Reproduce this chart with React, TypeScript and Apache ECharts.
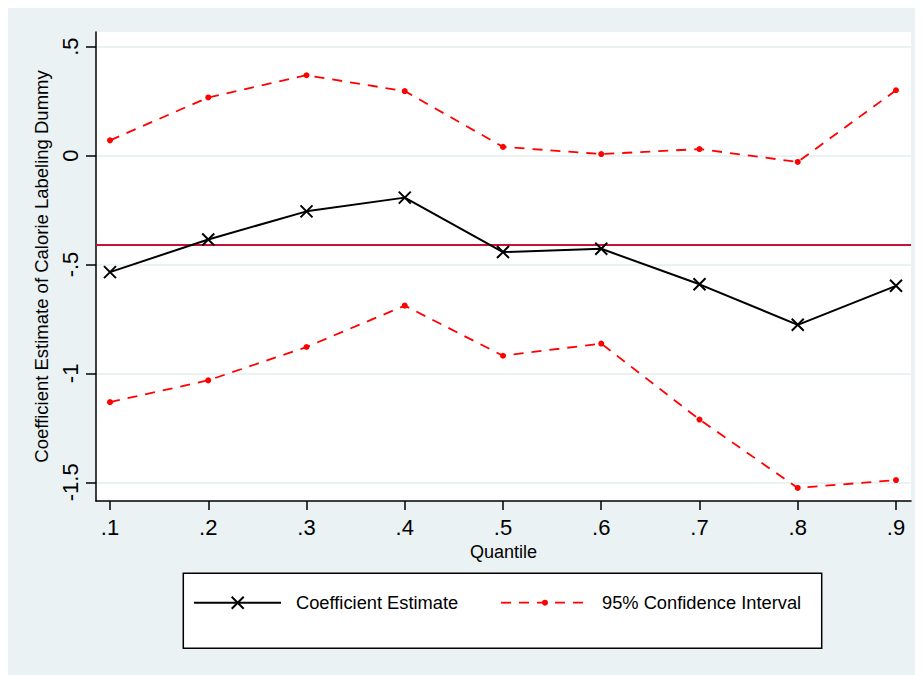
import React, { useEffect, useRef } from "react";
import * as echarts from "echarts";

// Quantile regression results for the calorie labeling dummy
const quantiles = [0.1, 0.2, 0.3, 0.4, 0.5, 0.6, 0.7, 0.8, 0.9];
const coefEstimate = [-0.535, -0.385, -0.256, -0.193, -0.443, -0.428, -0.591, -0.777, -0.598];
const upperCI = [0.07, 0.267, 0.369, 0.296, 0.04, 0.007, 0.03, -0.029, 0.3];
const lowerCI = [-1.132, -1.032, -0.879, -0.689, -0.919, -0.863, -1.212, -1.526, -1.49];
const olsEstimate = -0.412;
const yTicks = [-1.5, -1, -0.5, 0, 0.5];

const FONT = "'Liberation Sans', Arial, Helvetica, sans-serif";
const BG = "#EAF2F3";
const RED = "#FF0000";
const CRANBERRY = "#C8103C";

// Stata-style numbers: drop the leading zero (".5", "-.5")
const stataNum = (v: number) => {
  if (Math.abs(v) < 1e-9) return "0";
  const s = String(Math.round(Math.abs(v) * 1000) / 1000).replace(/^0(?=\.)/, "");
  return (v < 0 ? "-" : "") + s;
};

const crossSymbol = "path://M0,0L10,10M10,0L0,10";

export default function App() {
  const ref = useRef<HTMLDivElement>(null);

  useEffect(() => {
    document.body.style.overflow = "hidden";
    document.documentElement.style.overflow = "hidden";
    const chart = echarts.init(ref.current!, null, { renderer: "svg" });

    const pairs = (vals: number[]) => quantiles.map((q, i) => [q, vals[i]]);

    chart.setOption({
      animation: false,
      backgroundColor: BG,
      textStyle: { fontFamily: FONT },
      grid: {
        left: 88,
        top: 24,
        right: 12,
        bottom: 174,
        show: true,
        backgroundColor: "#FFFFFF",
        borderWidth: 0,
      },
      xAxis: {
        type: "value",
        min: 0.08575,
        max: 0.91527,
        name: "Quantile",
        nameLocation: "middle",
        nameGap: 38,
        nameTextStyle: { fontSize: 18, color: "#000", fontFamily: FONT },
        axisLine: { show: true, onZero: false, lineStyle: { color: "#000", width: 1.5 } },
        axisTick: { show: true, length: 9, customValues: quantiles, lineStyle: { color: "#000", width: 1.5 } },
        axisLabel: {
          customValues: quantiles,
          formatter: (v: number) => stataNum(v),
          fontSize: 22,
          color: "#000",
          margin: 15,
          fontFamily: FONT,
        },
        splitLine: { show: false },
      },
      yAxis: {
        type: "value",
        min: -1.586,
        max: 0.5675,
        name: "Coefficient Estimate of Calorie Labeling Dummy",
        nameLocation: "middle",
        nameRotate: 90,
        nameGap: 41,
        nameTextStyle: { fontSize: 18.5, color: "#000", fontFamily: FONT },
        axisLine: { show: true, onZero: false, lineStyle: { color: "#000", width: 1.5 } },
        axisTick: { show: true, length: 10, customValues: yTicks, lineStyle: { color: "#000", width: 1.5 } },
        axisLabel: {
          customValues: yTicks,
          rotate: 90,
          formatter: (v: number) => stataNum(v),
          fontSize: 22,
          color: "#000",
          margin: 15,
          fontFamily: FONT,
        },
        splitLine: { show: true, lineStyle: { color: BG, width: 2 } },
      },
      series: [
        {
          name: "95% Confidence Interval (upper)",
          type: "line",
          data: pairs(upperCI),
          symbol: "circle",
          symbolSize: 6,
          itemStyle: { color: RED },
          lineStyle: { color: RED, width: 1.8, type: [10, 8] },
          silent: true,
          z: 2,
        },
        {
          name: "95% Confidence Interval (lower)",
          type: "line",
          data: pairs(lowerCI),
          symbol: "circle",
          symbolSize: 6,
          itemStyle: { color: RED },
          lineStyle: { color: RED, width: 1.8, type: [10, 8] },
          silent: true,
          z: 2,
        },
        {
          name: "Coefficient Estimate",
          type: "line",
          data: pairs(coefEstimate),
          symbol: crossSymbol,
          symbolSize: 12,
          itemStyle: { color: "#000", borderColor: "#000", borderWidth: 2 },
          lineStyle: { color: "#000", width: 2 },
          silent: true,
          z: 3,
          markLine: {
            silent: true,
            symbol: "none",
            label: { show: false },
            lineStyle: { color: CRANBERRY, width: 2, type: "solid" },
            data: [{ yAxis: olsEstimate }],
            z: 1,
          },
        },
      ],
      graphic: [
        {
          type: "group",
          x: 175.3,
          y: 565.3,
          children: [
            {
              type: "rect",
              shape: { x: 0, y: 0, width: 638.4, height: 75 },
              style: { fill: "#FFFFFF", stroke: "#000", lineWidth: 1.5 },
            },
            { type: "line", shape: { x1: 10.7, y1: 29.4, x2: 97.7, y2: 29.4 }, style: { stroke: "#000", lineWidth: 2 } },
            { type: "line", shape: { x1: 48.4, y1: 23.4, x2: 60.4, y2: 35.4 }, style: { stroke: "#000", lineWidth: 2 } },
            { type: "line", shape: { x1: 48.4, y1: 35.4, x2: 60.4, y2: 23.4 }, style: { stroke: "#000", lineWidth: 2 } },
            {
              type: "text",
              x: 112.7,
              y: 29.4,
              style: { text: "Coefficient Estimate", fontSize: 18.3, fontFamily: FONT, fill: "#000", verticalAlign: "middle" },
            },
            {
              type: "line",
              shape: { x1: 317.7, y1: 29.4, x2: 405.7, y2: 29.4 },
              style: { stroke: RED, lineWidth: 1.8, lineDash: [10, 8] },
            },
            { type: "circle", shape: { cx: 361.7, cy: 29.4, r: 3 }, style: { fill: RED } },
            {
              type: "text",
              x: 418.7,
              y: 29.4,
              style: { text: "95% Confidence Interval", fontSize: 18.3, fontFamily: FONT, fill: "#000", verticalAlign: "middle" },
            },
          ],
        },
      ],
    });

    return () => chart.dispose();
  }, []);

  return <div ref={ref} style={{ width: 915, height: 667, background: BG }} />;
}
